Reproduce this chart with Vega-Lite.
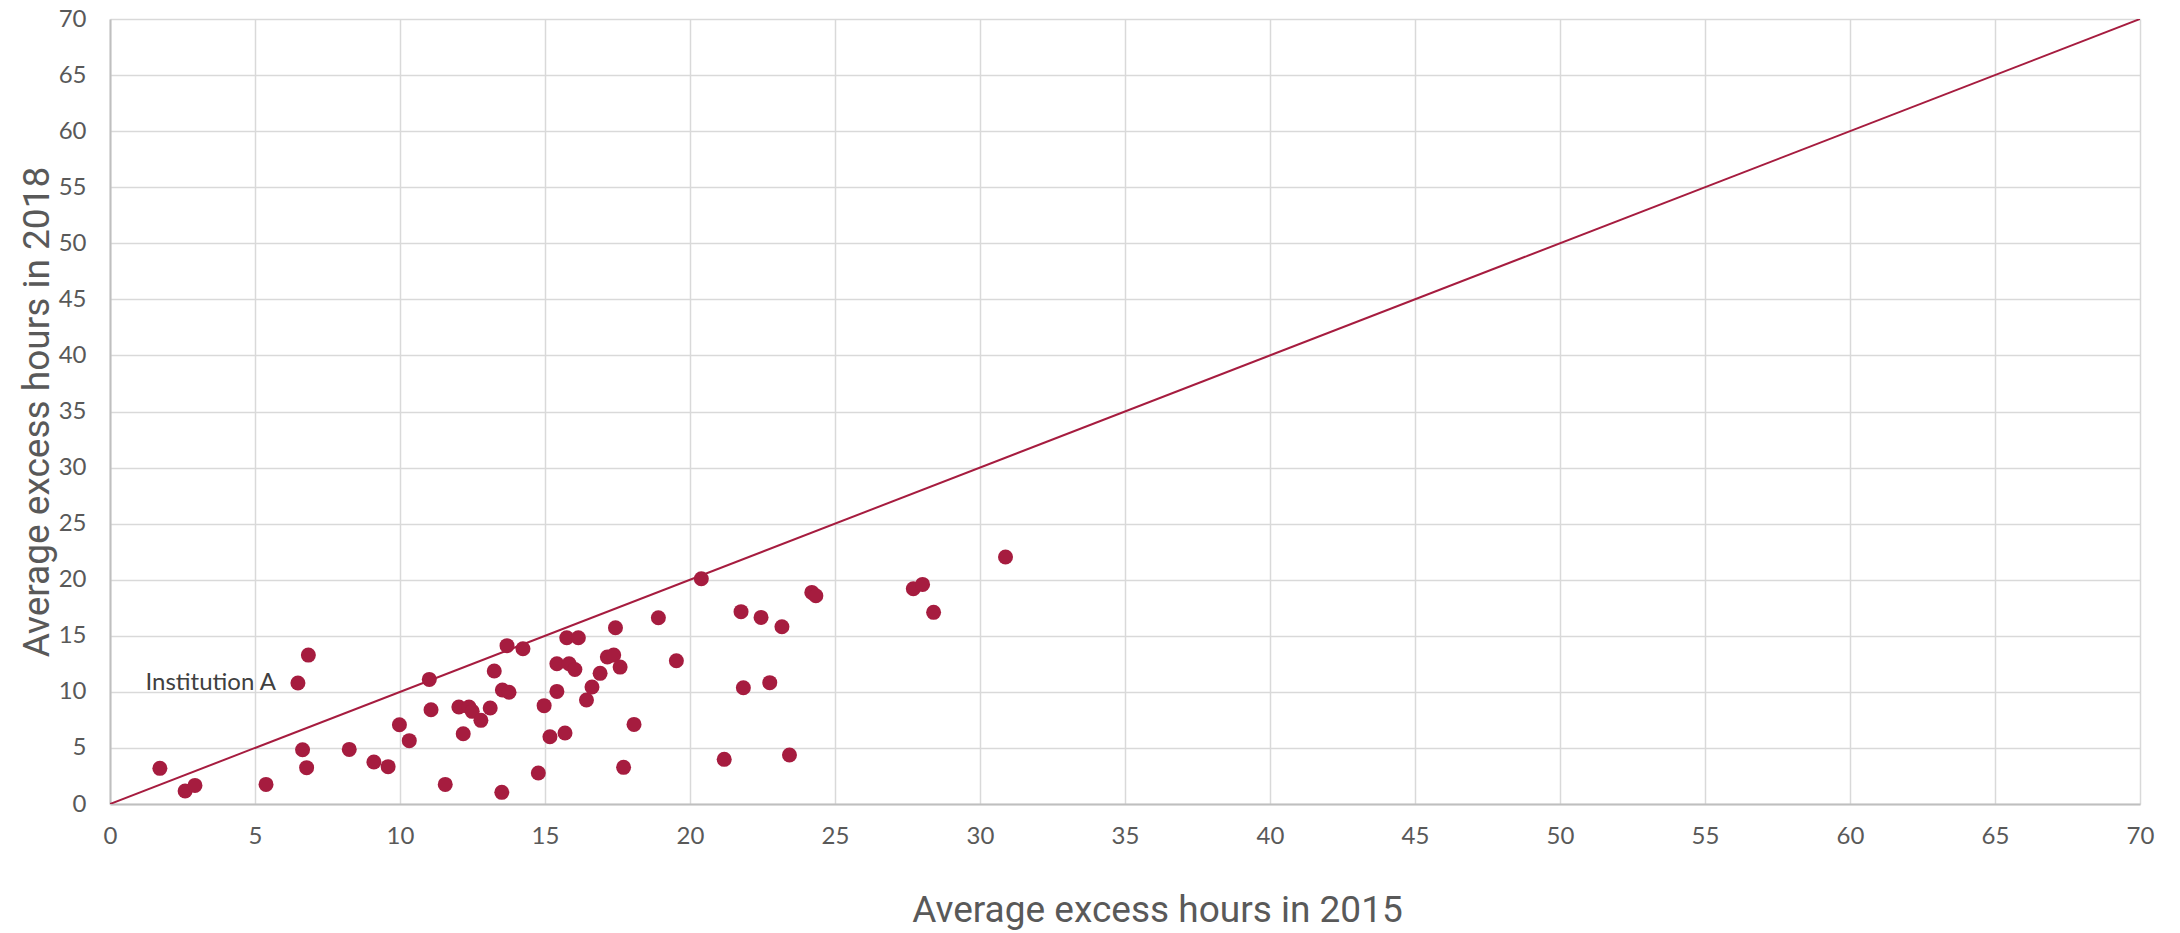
{
  "$schema": "https://vega.github.io/schema/vega-lite/v6.json",
  "width": 2030,
  "height": 785,
  "autosize": "none",
  "padding": {"left": 110, "top": 19, "right": 40, "bottom": 129},
  "background": "white",
  "config": {
    "view": {"stroke": null},
    "axis": {
      "labelFont": "Lato",
      "labelFontSize": 24,
      "labelColor": "#595959",
      "titleFont": "Roboto",
      "titleFontSize": 37,
      "titleFontWeight": "normal",
      "titleColor": "#595959",
      "gridColor": "#D9D9D9",
      "gridWidth": 1.5,
      "domainColor": "#BFBFBF",
      "domainWidth": 2,
      "ticks": false
    }
  },
  "datasets": {
    "pts": [
      {"x2015": 1.72, "y2018": 3.18},
      {"x2015": 2.59, "y2018": 1.16},
      {"x2015": 2.93, "y2018": 1.66},
      {"x2015": 5.38, "y2018": 1.75},
      {"x2015": 6.48, "y2018": 10.79, "name": "Institution A"},
      {"x2015": 6.84, "y2018": 13.28},
      {"x2015": 6.64, "y2018": 4.84},
      {"x2015": 6.78, "y2018": 3.24},
      {"x2015": 8.25, "y2018": 4.87},
      {"x2015": 9.10, "y2018": 3.74},
      {"x2015": 9.59, "y2018": 3.33},
      {"x2015": 9.98, "y2018": 7.07},
      {"x2015": 10.32, "y2018": 5.65},
      {"x2015": 11.01, "y2018": 11.11},
      {"x2015": 11.07, "y2018": 8.41},
      {"x2015": 11.56, "y2018": 1.75},
      {"x2015": 12.03, "y2018": 8.65},
      {"x2015": 12.18, "y2018": 6.27},
      {"x2015": 12.38, "y2018": 8.65},
      {"x2015": 12.49, "y2018": 8.26},
      {"x2015": 12.79, "y2018": 7.46},
      {"x2015": 13.11, "y2018": 8.56},
      {"x2015": 13.25, "y2018": 11.86},
      {"x2015": 13.69, "y2018": 14.12},
      {"x2015": 13.53, "y2018": 10.16},
      {"x2015": 13.76, "y2018": 9.96},
      {"x2015": 13.51, "y2018": 1.04},
      {"x2015": 14.24, "y2018": 13.85},
      {"x2015": 14.77, "y2018": 2.76},
      {"x2015": 14.97, "y2018": 8.77},
      {"x2015": 15.17, "y2018": 6.0},
      {"x2015": 15.69, "y2018": 6.33},
      {"x2015": 15.41, "y2018": 10.04},
      {"x2015": 15.41, "y2018": 12.51},
      {"x2015": 15.83, "y2018": 12.51},
      {"x2015": 16.03, "y2018": 12.0},
      {"x2015": 15.75, "y2018": 14.83},
      {"x2015": 16.15, "y2018": 14.83},
      {"x2015": 16.43, "y2018": 9.27},
      {"x2015": 16.62, "y2018": 10.43},
      {"x2015": 16.90, "y2018": 11.65},
      {"x2015": 17.15, "y2018": 13.11},
      {"x2015": 17.37, "y2018": 13.28},
      {"x2015": 17.43, "y2018": 15.72},
      {"x2015": 17.59, "y2018": 12.21},
      {"x2015": 17.71, "y2018": 3.27},
      {"x2015": 18.07, "y2018": 7.10},
      {"x2015": 18.91, "y2018": 16.61},
      {"x2015": 19.53, "y2018": 12.78},
      {"x2015": 20.39, "y2018": 20.09},
      {"x2015": 21.18, "y2018": 3.98},
      {"x2015": 21.76, "y2018": 17.15},
      {"x2015": 21.84, "y2018": 10.37},
      {"x2015": 22.45, "y2018": 16.64},
      {"x2015": 22.75, "y2018": 10.82},
      {"x2015": 23.17, "y2018": 15.81},
      {"x2015": 23.43, "y2018": 4.37},
      {"x2015": 24.20, "y2018": 18.87},
      {"x2015": 24.34, "y2018": 18.57},
      {"x2015": 27.70, "y2018": 19.20},
      {"x2015": 28.02, "y2018": 19.58},
      {"x2015": 28.40, "y2018": 17.09},
      {"x2015": 30.88, "y2018": 22.03}
    ],
    "diag": [
      {"x2015": 0, "y2018": 0},
      {"x2015": 70, "y2018": 70}
    ]
  },
  "layer": [
    {
      "data": {"name": "diag"},
      "mark": {"type": "line", "color": "#A61C3F", "strokeWidth": 2, "clip": true},
      "encoding": {
        "x": {
          "field": "x2015", "type": "quantitative",
          "scale": {"domain": [0, 70], "nice": false, "zero": true},
          "axis": {"values": [0,5,10,15,20,25,30,35,40,45,50,55,60,65,70], "title": "Average excess hours in 2015", "labelPadding": 20, "titleBaseline": "alphabetic", "titleY": 117, "titleX": 1047, "titleAlign": "center", "labelFlush": false}
        },
        "y": {
          "field": "y2018", "type": "quantitative",
          "scale": {"domain": [0, 70], "nice": false, "zero": true},
          "axis": {"values": [0,5,10,15,20,25,30,35,40,45,50,55,60,65,70], "title": "Average excess hours in 2018", "labelPadding": 24, "titleX": -73, "titleBaseline": "middle", "labelFlush": false}
        }
      }
    },
    {
      "data": {"name": "pts"},
      "mark": {"type": "circle", "color": "#A61C3F", "opacity": 1, "size": 225},
      "encoding": {
        "x": {"field": "x2015", "type": "quantitative"},
        "y": {"field": "y2018", "type": "quantitative"}
      }
    },
    {
      "data": {"name": "pts"},
      "transform": [{"filter": "isValid(datum.name)"}],
      "mark": {"type": "text", "align": "right", "baseline": "middle", "dx": -22, "font": "Lato", "fontSize": 24, "color": "#404040"},
      "encoding": {
        "x": {"field": "x2015", "type": "quantitative"},
        "y": {"field": "y2018", "type": "quantitative"},
        "text": {"field": "name"}
      }
    }
  ]
}
